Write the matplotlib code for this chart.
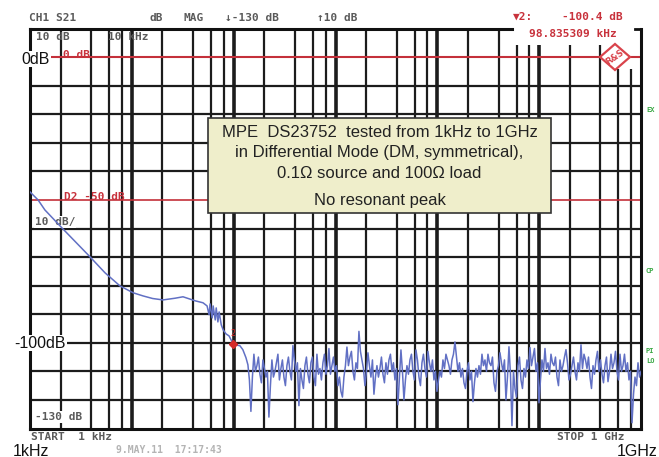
import numpy as np
import matplotlib
matplotlib.use("Agg")
import matplotlib.pyplot as plt
from matplotlib.patches import Polygon, Rectangle

# ---- measured S21 transmission (dB) ----
# low-frequency roll-off, frequency in kHz
roll_off_khz = [1.0, 1.2, 1.4, 2.06, 3.88, 5.45, 7.65, 10.3, 12.9, 16.0,
                20.2, 26.6, 31.8, 41.8, 50.0, 54.8, 57.4, 58.7, 61.5, 62.9,
                65.9, 67.4, 70.0, 72.0, 75.5, 78.9, 84.2, 90.1, 98.835, 105,
                115, 123, 132]
roll_off_db = [-47.2, -50.0, -53.5, -59.8, -69.9, -75.5, -80.1, -82.5, -83.6, -84.5,
               -85.0, -84.4, -83.9, -85.3, -86.0, -87.1, -90.2, -86.4, -91.3, -87.1,
               -92.0, -87.8, -92.7, -89.2, -93.7, -95.5, -96.9, -97.6, -100.4, -100.8,
               -101.0, -102.4, -105.2]

# noise floor part of the log sweep (138 kHz .. 1 GHz)
floor_start_hz = 138e3
floor_stop_hz = 1e9
floor_db = [
    -107.7, -113, -124, -112, -104, -110, -108, -105, -111, -114,
    -106, -109, -112, -110, -126, -115, -106, -112, -110, -107,
    -104, -113, -109, -106, -112, -115, -108, -105, -110, -113,
    -101, -106, -110, -107, -122, -109, -113, -116, -108, -105,
    -111, -114, -107, -105, -112, -115, -104, -111, -109, -113,
    -107, -104, -111, -108, -102, -111, -108, -105, -110, -108,
    -115, -112, -117, -119, -112, -108, -101.5, -108, -105, -103,
    -110, -113, -107, -109, -96, -103, -106, -109, -115, -110,
    -103.5, -108, -112, -106, -118, -112, -108, -112, -109, -105,
    -111, -114, -107, -111, -106, -104, -110, -107, -113, -109,
    -121.7, -112, -102.5, -110, -120, -113, -108, -111, -106, -104,
    -110, -113, -102.5, -106, -112, -115, -107, -104, -109, -112,
    -103, -107, -110, -106, -113, -110, -117, -113, -110, -112,
    -106, -109, -104, -106, -108, -111, -106, -104, -99.7, -105,
    -110, -107, -112, -109, -114, -116, -110, -107, -113, -110,
    -120.6, -114, -109, -112, -108, -111, -104, -108, -106, -110,
    -104, -107, -108, -105, -114, -117, -110, -108, -103.5, -107,
    -110, -106, -120, -112, -101.4, -111, -129, -110, -116, -119,
    -108, -105, -113, -116, -109, -112, -106, -109, -101.7, -108,
    -105, -102, -110, -107, -121, -113, -106, -110, -102, -109,
    -107, -111, -104, -107, -108, -105, -112, -115, -106, -110,
    -108, -105, -102.4, -107, -113, -111, -108, -105, -110, -113,
    -107, -110, -100.7, -109, -104, -106, -109, -105, -112, -116,
    -108, -111, -106, -103, -110, -106, -111, -114, -108, -105,
    -113.6, -110, -104, -109, -107, -103, -110, -113, -104, -110,
    -108, -104, -110, -107, -113, -110, -128, -118, -112, -115,
    -107, -112, -110]

# marker 2 readout
marker_hz = 98.835309e3
marker_db = -100.4

# display settings
bottom_db = -130
top_db = 10
start_hz = 1e3
stop_hz = 1e9

W, H = 659, 457


def fx(x):
    return x / W


def fy(y):
    return 1 - y / H


fig = plt.figure(figsize=(W / 100, H / 100), dpi=100)
fig.patch.set_facecolor("white")
ax = fig.add_axes([fx(30), fy(428.5), 611 / W, 400 / H])
ax.set_xscale("log")
ax.set_xlim(start_hz, stop_hz)
ax.set_ylim(bottom_db, top_db)
ax.xaxis.set_major_locator(matplotlib.ticker.NullLocator())
ax.xaxis.set_minor_locator(matplotlib.ticker.NullLocator())
ax.yaxis.set_major_locator(matplotlib.ticker.NullLocator())
for side in ("left", "bottom", "right"):
    ax.spines[side].set_linewidth(2.2)
    ax.spines[side].set_color("#111111")
ax.spines["top"].set_visible(False)

grid_col = "#1c1c1c"
# horizontal divisions, 10 dB each
for lvl in range(-120, 10, 10):
    if lvl in (0, -50):
        continue
    ax.axhline(lvl, color=grid_col, lw=1.6, zorder=1)
ax.axhline(0, color="#c4303a", lw=1.5, zorder=1.5)
ax.axhline(-50, color="#c4303a", lw=1.2, zorder=1.5)

# vertical divisions: 2,4,6,8 per decade plus decade lines
marker_box_edge_hz = 54e6
for dec in range(3, 9):
    for m in (1, 2, 4, 6, 8):
        f = m * 10.0 ** dec
        if f <= start_hz or f >= stop_hz:
            continue
        if f < marker_box_edge_hz:
            top = top_db
        elif f < 5e8:
            top = 4.2
        else:
            top = -4.2
        ax.vlines(f, bottom_db, top, color=grid_col,
                  lw=2.6 if m == 1 else 1.6, zorder=1, clip_on=False)

# partial top frame and right bracket hook
ax.plot([start_hz, marker_box_edge_hz], [top_db, top_db], color="#111111",
        lw=2.2, clip_on=False, zorder=2)
ax.plot([8.8e8, stop_hz], [top_db, top_db], color="#111111", lw=2.0,
        clip_on=False, zorder=2)

# instrument annotations
mono = dict(family="DejaVu Sans Mono", fontsize=8, color="#5a5a5a",
            va="center", ha="left", fontweight="bold")
red_mono = dict(mono, color="#c8323c")

# scale labels that sit on the graticule, under the trace
ax.text(fx(35), fy(222), "10 dB/", transform=fig.transFigure, zorder=2.5,
        bbox=dict(facecolor="white", edgecolor="none", pad=0.6), **mono)
ax.text(fx(35), fy(417), "-130 dB", transform=fig.transFigure, zorder=2.5,
        bbox=dict(facecolor="white", edgecolor="none", pad=0.6), **mono)

# trace
floor_hz = np.geomspace(floor_start_hz, floor_stop_hz, len(floor_db))
trace_hz = np.concatenate([np.array(roll_off_khz) * 1e3, floor_hz])
trace_db = np.concatenate([roll_off_db, floor_db])
ax.plot(trace_hz, trace_db, color="#6170c4", lw=1.1, zorder=3)

# marker 2
ax.plot([marker_hz], [marker_db], marker="D", ms=4, color="#d42a2a", zorder=4)
ax.text(marker_hz, marker_db + 3.6, "2", color="#d42a2a", fontsize=6,
        family="DejaVu Sans Mono", ha="center", va="center", zorder=4)

fig.text(fx(29), fy(18), "CH1 S21", **mono)
fig.text(fx(150), fy(18), "dB", **mono)
fig.text(fx(183), fy(18), "MAG", **mono)
fig.text(fx(225), fy(18), "\u2193-130 dB", **mono)
fig.text(fx(317), fy(18), "\u219110 dB", **mono)
fig.text(fx(513), fy(17), "\u25bc2:", **red_mono)
fig.text(fx(562), fy(17), "-100.4 dB", **red_mono)
fig.text(fx(529), fy(34), "98.835309 kHz", **red_mono)

fig.text(fx(36), fy(37), "10 dB", **mono)
fig.text(fx(108), fy(37), "10 kHz", **mono)
fig.text(fx(63), fy(55), "0 dB", **red_mono)
fig.text(fx(64), fy(197), "D2 -50 dB", **red_mono)
fig.text(fx(31), fy(437), "START  1 kHz", **mono)
fig.text(fx(557), fy(437), "STOP 1 GHz", **mono)
fig.text(fx(116), fy(450), "9.MAY.11  17:17:43",
         **dict(mono, color="#b4b4b4", fontsize=7))

green = dict(family="DejaVu Sans Mono", fontsize=5, color="#3aa845",
             va="center", ha="left", fontweight="bold")
fig.text(fx(646), fy(110), "EX", **green)
fig.text(fx(646), fy(271), "CP", **green)
fig.text(fx(646), fy(351), "PI", **green)
fig.text(fx(646), fy(361), "LO", **green)

# axis captions
big = dict(family="Liberation Sans", fontsize=11.5, color="#111111", va="center",
           bbox=dict(facecolor="white", edgecolor="none", pad=0.5))
fig.text(fx(50), fy(59), "0dB", ha="right", **big)
fig.text(fx(66), fy(343), "-100dB", ha="right", **big)
fig.text(fx(13), fy(451), "1kHz", ha="left", **big)
fig.text(fx(657), fy(451), "1GHz", ha="right", **big)

# manufacturer logo
cx, cy, rx, ry = 615, 57, 15, 13
logo = Polygon([(fx(cx - rx), fy(cy)), (fx(cx), fy(cy - ry)),
                (fx(cx + rx), fy(cy)), (fx(cx), fy(cy + ry))],
               closed=True, transform=fig.transFigure, facecolor="white",
               edgecolor="#d9434b", lw=1.6, zorder=6)
fig.add_artist(logo)
fig.text(fx(cx), fy(cy), "R&S", family="DejaVu Sans", fontsize=6,
         fontweight="bold", color="#d9434b", ha="center", va="center",
         rotation=35, zorder=7)

# note box
bx0, by0, bx1, by1 = 208, 118, 551, 213
note = Rectangle((fx(bx0), fy(by1)), fx(bx1) - fx(bx0), fy(by0) - fy(by1),
                 transform=fig.transFigure, facecolor="#efeecb",
                 edgecolor="#333333", lw=1.2, zorder=6)
fig.add_artist(note)
note_lines = [("MPE  DS23752  tested from 1kHz to 1GHz", 132),
              ("in Differential Mode (DM, symmetrical),", 153),
              ("0.1\u03a9 source and 100\u03a9 load", 173),
              ("No resonant peak", 200)]
for txt, yy in note_lines:
    fig.text(fx((bx0 + bx1) / 2), fy(yy), txt, family="Liberation Sans",
             fontsize=12, color="#222222", ha="center", va="center", zorder=7)

fig.savefig("out.png", dpi=100, facecolor="white")
